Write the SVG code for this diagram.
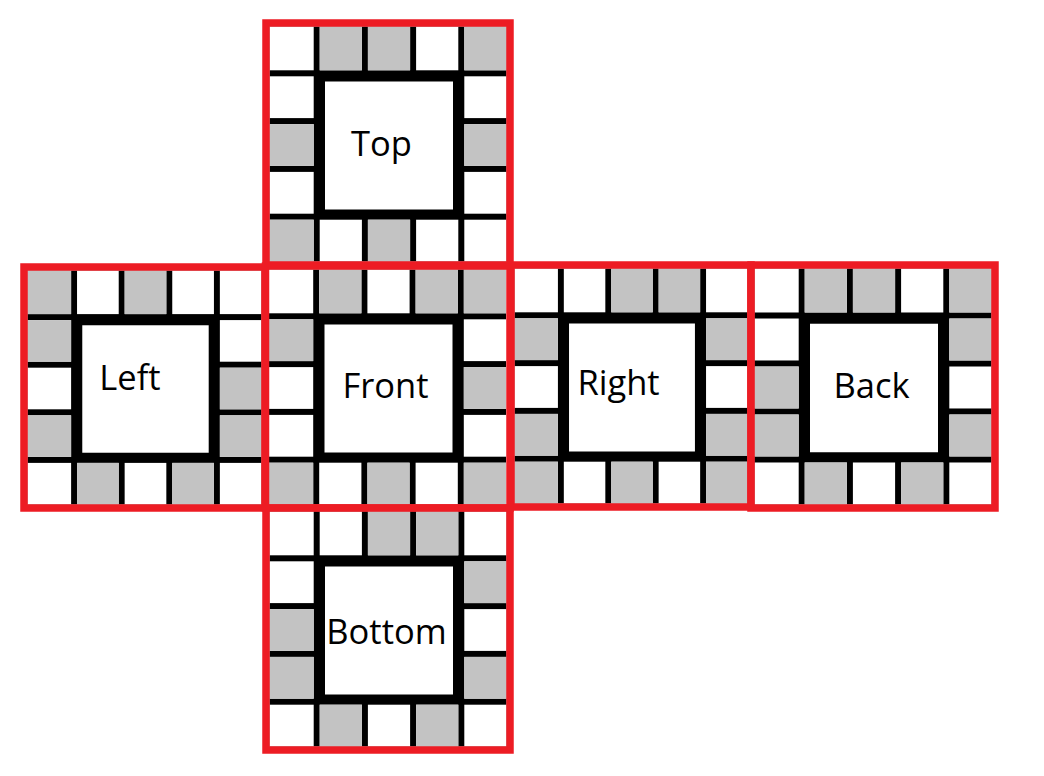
<svg xmlns="http://www.w3.org/2000/svg" xmlns:xlink="http://www.w3.org/1999/xlink" width="1044" height="776" viewBox="0 0 1044 776">
<style>
.bg{fill:#000}
.w{fill:#fff}
.g{fill:#c3c3c3}
.red{fill:none;stroke:#ed1c24;stroke-width:7.5;stroke-linejoin:miter}
.lbl{font-family:"Open Sans","Noto Sans","Liberation Sans",sans-serif;font-size:34.5px;fill:#000;text-anchor:middle}
</style>
<defs>
<g id="base">
<rect class="bg" x="3.5" y="3.5" width="237" height="235"/>
<rect class="w" x="3.5" y="3.5" width="44.2" height="43.8"/>
<rect class="w" x="53.7" y="3.5" width="42.2" height="43.8"/>
<rect class="w" x="101.9" y="3.5" width="42.2" height="43.8"/>
<rect class="w" x="150.1" y="3.5" width="42.2" height="43.8"/>
<rect class="w" x="198.3" y="3.5" width="42.2" height="43.8"/>
<rect class="w" x="3.5" y="53.3" width="44.2" height="41.8"/>
<rect class="w" x="198.3" y="53.3" width="42.2" height="41.8"/>
<rect class="w" x="3.5" y="101.1" width="44.2" height="41.8"/>
<rect class="w" x="198.3" y="101.1" width="42.2" height="41.8"/>
<rect class="w" x="3.5" y="148.9" width="44.2" height="41.8"/>
<rect class="w" x="198.3" y="148.9" width="42.2" height="41.8"/>
<rect class="w" x="3.5" y="196.7" width="44.2" height="41.8"/>
<rect class="w" x="53.7" y="196.7" width="42.2" height="41.8"/>
<rect class="w" x="101.9" y="196.7" width="42.2" height="41.8"/>
<rect class="w" x="150.1" y="196.7" width="42.2" height="41.8"/>
<rect class="w" x="198.3" y="196.7" width="42.2" height="41.8"/>
<rect class="w" x="59" y="58.5" width="128" height="128"/>
</g>
<rect id="c00" x="3.5" y="3.5" width="44.2" height="43.8"/>
<rect id="c01" x="53.7" y="3.5" width="42.2" height="43.8"/>
<rect id="c02" x="101.9" y="3.5" width="42.2" height="43.8"/>
<rect id="c03" x="150.1" y="3.5" width="42.2" height="43.8"/>
<rect id="c04" x="198.3" y="3.5" width="42.2" height="43.8"/>
<rect id="c10" x="3.5" y="53.3" width="44.2" height="41.8"/>
<rect id="c14" x="198.3" y="53.3" width="42.2" height="41.8"/>
<rect id="c20" x="3.5" y="101.1" width="44.2" height="41.8"/>
<rect id="c24" x="198.3" y="101.1" width="42.2" height="41.8"/>
<rect id="c30" x="3.5" y="148.9" width="44.2" height="41.8"/>
<rect id="c34" x="198.3" y="148.9" width="42.2" height="41.8"/>
<rect id="c40" x="3.5" y="196.7" width="44.2" height="41.8"/>
<rect id="c41" x="53.7" y="196.7" width="42.2" height="41.8"/>
<rect id="c42" x="101.9" y="196.7" width="42.2" height="41.8"/>
<rect id="c43" x="150.1" y="196.7" width="42.2" height="41.8"/>
<rect id="c44" x="198.3" y="196.7" width="42.2" height="41.8"/>
</defs>
<rect width="1044" height="776" fill="#fff"/>

<g id="face-top">
<g transform="translate(266,23)">
<use xlink:href="#base" href="#base"/>
<use class="g" href="#c01" xlink:href="#c01"/><use class="g" href="#c02" xlink:href="#c02"/><use class="g" href="#c04" xlink:href="#c04"/>
<use class="g" href="#c20" xlink:href="#c20"/><use class="g" href="#c24" xlink:href="#c24"/>
<use class="g" href="#c40" xlink:href="#c40"/><use class="g" href="#c42" xlink:href="#c42"/>
</g>
<rect class="red" x="266" y="23" width="244" height="242"/>
<text class="lbl" x="381.5" y="156">Top</text>
</g>

<g id="face-left">
<g transform="translate(24,267) scale(0.9877,0.9959)">
<use href="#base" xlink:href="#base"/>
<use class="g" href="#c00" xlink:href="#c00"/><use class="g" href="#c02" xlink:href="#c02"/>
<use class="g" href="#c10" xlink:href="#c10"/>
<use class="g" href="#c24" xlink:href="#c24"/>
<use class="g" href="#c30" xlink:href="#c30"/><use class="g" href="#c34" xlink:href="#c34"/>
<use class="g" href="#c41" xlink:href="#c41"/><use class="g" href="#c43" xlink:href="#c43"/>
</g>
<rect class="red" x="24" y="267" width="241" height="241"/>
<text class="lbl" x="130" y="390">Left</text>
</g>

<g id="face-front">
<g transform="translate(265.5,266)">
<use href="#base" xlink:href="#base"/>
<use class="g" href="#c01" xlink:href="#c01"/><use class="g" href="#c03" xlink:href="#c03"/><use class="g" href="#c04" xlink:href="#c04"/>
<use class="g" href="#c10" xlink:href="#c10"/>
<use class="g" href="#c24" xlink:href="#c24"/>
<use class="g" href="#c40" xlink:href="#c40"/><use class="g" href="#c42" xlink:href="#c42"/><use class="g" href="#c44" xlink:href="#c44"/>
</g>
<rect class="red" x="265.5" y="266" width="244.5" height="242"/>
<text class="lbl" x="385.5" y="398">Front</text>
</g>

<g id="face-right">
<g transform="translate(511,265) scale(0.9836,1)">
<use href="#base" xlink:href="#base"/>
<use class="g" href="#c02" xlink:href="#c02"/><use class="g" href="#c03" xlink:href="#c03"/>
<use class="g" href="#c10" xlink:href="#c10"/><use class="g" href="#c14" xlink:href="#c14"/>
<use class="g" href="#c30" xlink:href="#c30"/><use class="g" href="#c34" xlink:href="#c34"/>
<use class="g" href="#c40" xlink:href="#c40"/><use class="g" href="#c42" xlink:href="#c42"/><use class="g" href="#c44" xlink:href="#c44"/>
</g>
<rect class="red" x="511" y="265" width="240" height="242"/>
<text class="lbl" x="618.5" y="395">Right</text>
</g>

<g id="face-back">
<g transform="translate(751,265) scale(1,1.004)">
<use href="#base" xlink:href="#base"/>
<use class="g" href="#c01" xlink:href="#c01"/><use class="g" href="#c02" xlink:href="#c02"/><use class="g" href="#c04" xlink:href="#c04"/>
<use class="g" href="#c14" xlink:href="#c14"/>
<use class="g" href="#c20" xlink:href="#c20"/>
<use class="g" href="#c30" xlink:href="#c30"/><use class="g" href="#c34" xlink:href="#c34"/>
<use class="g" href="#c41" xlink:href="#c41"/><use class="g" href="#c43" xlink:href="#c43"/>
</g>
<rect class="red" x="751" y="265" width="244" height="243"/>
<text class="lbl" x="871.5" y="398">Back</text>
</g>

<g id="face-bottom">
<g transform="translate(266,508)">
<use href="#base" xlink:href="#base"/>
<use class="g" href="#c02" xlink:href="#c02"/><use class="g" href="#c03" xlink:href="#c03"/>
<use class="g" href="#c14" xlink:href="#c14"/>
<use class="g" href="#c20" xlink:href="#c20"/>
<use class="g" href="#c30" xlink:href="#c30"/><use class="g" href="#c34" xlink:href="#c34"/>
<use class="g" href="#c41" xlink:href="#c41"/><use class="g" href="#c43" xlink:href="#c43"/>
</g>
<rect class="red" x="266" y="508" width="244" height="242"/>
<text class="lbl" x="386.5" y="643.5">Bottom</text>
</g>

<g id="connectors"/>
</svg>
